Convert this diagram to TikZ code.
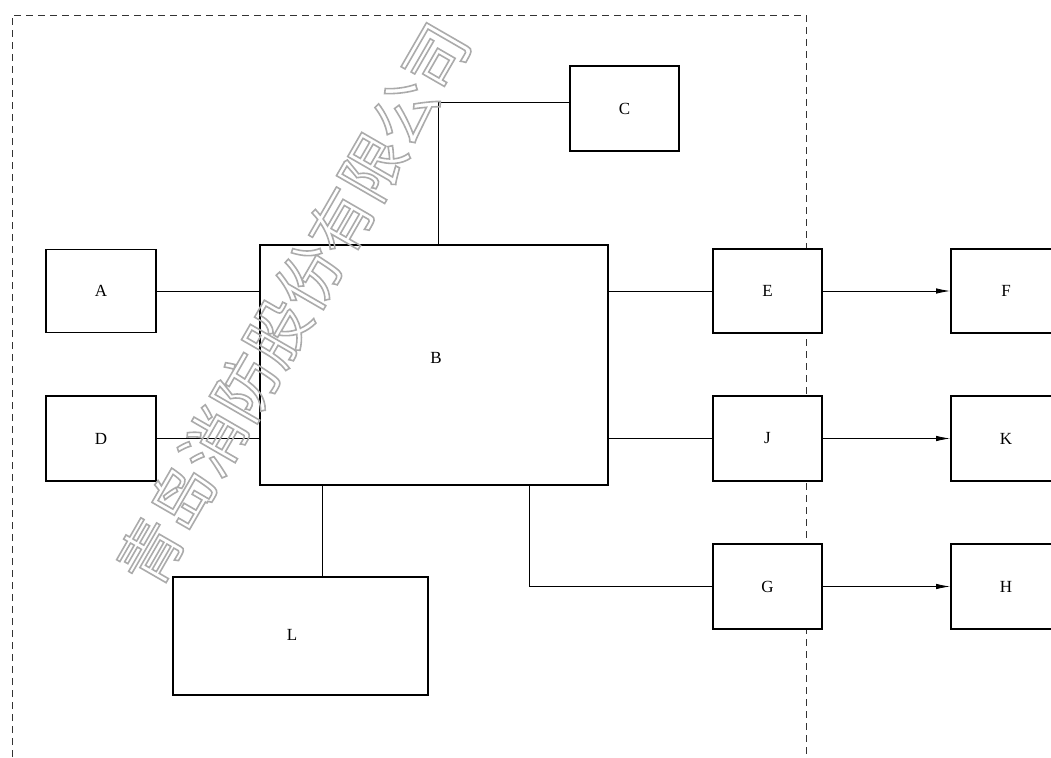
\documentclass[tikz,border=0pt]{standalone}
\usepackage{fontspec}
\setmainfont{Liberation Serif}
\newfontfamily\cjk{Noto Sans CJK SC}
\usetikzlibrary{arrows.meta,calc}
\begin{document}
\begin{tikzpicture}[x=1pt,y=-1pt,
  box/.style={draw, line width=1.9pt, fill=white, inner sep=0pt, font=\fontsize{17}{20}\selectfont},
  conn/.style={line width=0.8pt},
  arr/.style={line width=0.8pt, -{Latex[length=14pt,width=5.5pt]}},
  bound/.style={line width=0.9pt, dash pattern=on 7pt off 5pt, black!80},
  lbl/.style={inner sep=0pt, font=\fontsize{17}{20}\selectfont},
  wm/.style={inner sep=0pt, text=black!33, rotate=60, font=\cjk\fontsize{63.5}{64}\selectfont}]
\useasboundingbox (0,0) rectangle (1051,757);
\clip (0,0) rectangle (1051,757);
\draw[bound] (12,757) -- (12,15) -- (806,15) -- (806,757);
% boxes
\node[box, minimum width=110pt, minimum height=83pt] (A) at (101,291) {A};
\node[box, minimum width=110pt, minimum height=85pt] (D) at (101,438.5) {D};
\node[box, minimum width=348pt, minimum height=240pt] (B) at (434,365) {};
\node[lbl] (Bt) at (436,358) {B};
\node[box, minimum width=109pt, minimum height=85pt] (C) at (624.5,108.5) {C};
\node[box, minimum width=255pt, minimum height=118pt] (L) at (300.5,636) {};
\node[lbl] (Lt) at (292,635) {L};
\node[box, minimum width=109pt, minimum height=84pt] (E) at (767.5,291) {E};
\node[box, minimum width=109pt, minimum height=85pt] (J) at (767.5,438.5) {J};
\node[box, minimum width=109pt, minimum height=85pt] (G) at (767.5,586.5) {G};
\node[box, minimum width=110pt, minimum height=84pt] (F) at (1006,291) {F};
\node[box, minimum width=110pt, minimum height=85pt] (K) at (1006,438.5) {K};
\node[box, minimum width=110pt, minimum height=85pt] (H) at (1006,586.5) {H};
% connectors
\coordinate (cx) at (438,0);
\coordinate (lx) at (322,0);
\coordinate (gx) at (529,0);
\draw[conn] (A.east) -- (A.east -| B.west);
\draw[conn] (D.east) -- (D.east -| B.west);
\draw[conn] (B.north -| cx) |- ($(C.west)+(0,-6.5)$);
\draw[conn] (B.south -| lx) -- (L.north -| lx);
\draw[conn] (B.south -| gx) |- (G.west);
\draw[conn] (E.west -| B.east) -- (E.west);
\draw[conn] (J.west -| B.east) -- (J.west);
\draw[arr] (E.east) -- (F.west);
\draw[arr] (J.east) -- (K.west);
\draw[arr] (G.east) -- (H.west);
% watermark
\node[wm] (wmk) at (293,304) {\special{pdf:literal direct 1 Tr 1.6 w}青岛消防股份有限公司\special{pdf:literal direct 0 Tr}};
\end{tikzpicture}
\end{document}
